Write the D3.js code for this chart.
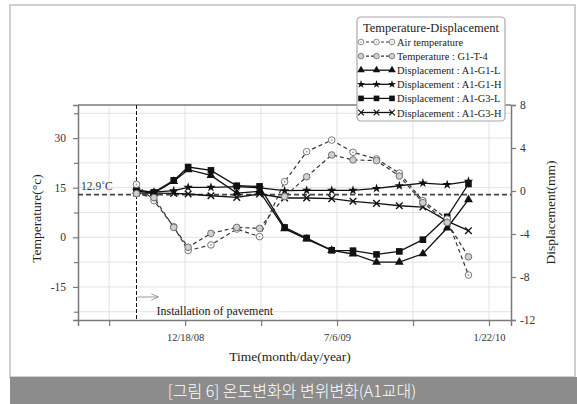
<!DOCTYPE html>
<html>
<head>
<meta charset="utf-8">
<script src="https://cdn.jsdelivr.net/npm/d3@7"></script>
<style>
  html, body { margin: 0; padding: 0; background: #fff; }
  svg { display: block; }
  .serif { font-family: "Liberation Serif", "DejaVu Serif", serif; }
</style>
</head>
<body>
<svg id="chart" width="577" height="404"></svg>
<script>
// Survey dates (month/day/year)
const dates = ["2008-10-15", "2008-11-07", "2008-12-03", "2008-12-22", "2009-01-21", "2009-02-24",
  "2009-03-26", "2009-04-28", "2009-05-27", "2009-06-29", "2009-07-27", "2009-08-27",
  "2009-09-26", "2009-10-27", "2009-11-28", "2009-12-26"];

// Temperatures (°C), left axis
const airTemp = [16.0, 11.1, 3.2, -4.0, -2.3, 2.5, 0.2, 16.8, 25.9, 29.4, 25.7, 23.7, 19.4, 11.1, 5.5, -11.4];
const tempG1T4 = [13.2, 12.0, 3.0, -3.0, 1.2, 3.0, 2.7, 12.3, 18.3, 24.9, 23.4, 23.2, 18.5, 10.5, 4.5, -5.9];

// Displacements (mm), right axis
const dispA1G1L = [-0.02, -0.2, 0.9, 1.98, 1.45, -0.19, -0.03, -3.5, -4.47, -5.52, -5.86, -6.62, -6.62, -5.84, -3.44, -0.81];
const dispA1G1H = [0.06, -0.1, 0.03, 0.34, 0.34, 0.4, 0.3, 0.03, 0.06, 0.06, 0.06, 0.24, 0.49, 0.74, 0.59, 0.9];
const dispA1G3L = [0.06, -0.13, 0.99, 2.23, 1.92, 0.49, 0.43, -3.39, -4.37, -5.52, -5.55, -5.9, -5.62, -4.53, -2.4, 0.65];
const dispA1G3H = [-0.19, -0.19, -0.22, -0.28, -0.44, -0.59, -0.28, -0.65, -0.65, -0.71, -0.96, -1.15, -1.37, -1.49, -2.8, -3.69];

// Axis ticks
const xMajorTicks = ["2008-12-18", "2009-07-06", "2010-01-22"];
const xMinorTicks = ["2008-09-09", "2009-03-28", "2009-10-14"];
const tempTicks = [-15, 0, 15, 30];
const tempMinorTicks = [-22.5, -7.5, 7.5, 22.5, 37.5];
const dispTicks = [-12, -8, -4, 0, 4, 8];

const refTemp = 12.9;
const installDate = "2008-10-15";

const parse = d3.timeParse("%Y-%m-%d");
const fmt = d => `${d.getMonth() + 1}/${d.getDate()}/${String(d.getFullYear()).slice(2)}`;

const svg = d3.select("#chart");
const L = 78, R = 511, T = 105, B = 320;

// Card frame and caption bar
svg.append("rect").attr("x", 10).attr("y", 5).attr("width", 565).attr("height", 372)
  .attr("fill", "#fff").attr("stroke", "#cfcfcf").attr("stroke-width", 2);
svg.append("rect").attr("x", 10).attr("y", 377).attr("width", 567).attr("height", 27).attr("fill", "#8c8c8c");
svg.append("text").attr("x", 292).attr("y", 397).attr("text-anchor", "middle")
  .attr("fill", "#fff").attr("font-family", "'Noto Sans CJK KR', sans-serif")
  .attr("font-size", 16).attr("font-weight", 300)
  .text("[그림 6] 온도변화와 변위변화(A1교대)");

const x = d3.scaleTime().domain([parse("2008-07-30"), parse("2010-02-20")]).range([L, R]);
const yT = d3.scaleLinear().domain([-25, 40]).range([B, T]);
const yD = d3.scaleLinear().domain([-12, 8]).range([B, T]);

const g = svg.append("g");

// Grid
g.append("g").selectAll("line").data([...tempTicks, ...tempMinorTicks]).join("line")
  .attr("x1", L).attr("x2", R).attr("y1", d => yT(d)).attr("y2", d => yT(d))
  .attr("stroke", "#e2e2e2").attr("stroke-width", 1);
g.append("g").selectAll("line").data([...xMajorTicks, ...xMinorTicks].map(parse)).join("line")
  .attr("x1", d => x(d)).attr("x2", d => x(d)).attr("y1", T).attr("y2", B)
  .attr("stroke", "#e2e2e2").attr("stroke-width", 1);

function styleAxis(sel) {
  sel.select(".domain").attr("stroke", "#7a7a7a").attr("stroke-width", 1.5);
  sel.selectAll(".tick line").attr("stroke", "#7a7a7a").attr("stroke-width", 1.2);
  sel.selectAll("text").attr("font-family", "'Liberation Serif', serif").attr("font-size", 11.5).attr("fill", "#333");
}

// Left axis
g.append("g").attr("transform", `translate(${L},0)`)
  .call(d3.axisLeft(yT).tickValues(tempTicks).tickSize(5).tickPadding(7).tickFormat(d => String(d)))
  .call(styleAxis);
g.append("g").attr("transform", `translate(${L},0)`)
  .call(d3.axisLeft(yT).tickValues(tempMinorTicks).tickSize(4).tickFormat(""))
  .call(styleAxis).call(s => s.select(".domain").remove());

// Right axis
g.append("g").attr("transform", `translate(${R},0)`)
  .call(d3.axisRight(yD).tickValues(dispTicks).tickSize(5).tickPadding(4).tickFormat(d => String(d)))
  .call(styleAxis);

// Bottom axis
g.append("g").attr("transform", `translate(0,${B})`)
  .call(d3.axisBottom(x).tickValues(xMajorTicks.map(parse)).tickSize(6).tickPadding(8).tickFormat(fmt))
  .call(styleAxis).call(s => s.selectAll("text").attr("font-size", 10.5));
g.append("g").attr("transform", `translate(0,${B})`)
  .call(d3.axisBottom(x).tickValues(xMinorTicks.map(parse)).tickSize(6).tickFormat(""))
  .call(styleAxis).call(s => s.select(".domain").remove());

// Top frame line
g.append("line").attr("x1", L).attr("x2", R).attr("y1", T).attr("y2", T)
  .attr("stroke", "#7a7a7a").attr("stroke-width", 1.5);

// Axis titles
svg.append("text").attr("class", "serif").attr("transform", `translate(41,${(T + B) / 2 + 6}) rotate(-90)`)
  .attr("text-anchor", "middle").attr("font-size", 13.5).attr("fill", "#222")
  .text("Temperature(°c)");
svg.append("text").attr("class", "serif").attr("transform", `translate(555,${(T + B) / 2}) rotate(-90)`)
  .attr("text-anchor", "middle").attr("font-size", 13.5).attr("fill", "#222")
  .text("Displacement(mm)");
svg.append("text").attr("class", "serif").attr("x", 290).attr("y", 361)
  .attr("text-anchor", "middle").attr("font-size", 13.5).attr("fill", "#222")
  .text("Time(month/day/year)");

// Reference temperature line
g.append("line").attr("x1", L).attr("x2", R).attr("y1", yT(refTemp)).attr("y2", yT(refTemp))
  .attr("stroke", "#444").attr("stroke-width", 1.8).attr("stroke-dasharray", "5,3");
svg.append("text").attr("class", "serif").attr("x", 81).attr("y", yT(refTemp) - 5)
  .attr("font-size", 11.5).attr("fill", "#333").text("12.9˚C");

// Installation marker
const xi = x(parse(installDate));
g.append("line").attr("x1", xi).attr("x2", xi).attr("y1", T).attr("y2", B)
  .attr("stroke", "#111").attr("stroke-width", 1).attr("stroke-dasharray", "4,2");
svg.append("defs").append("marker").attr("id", "arr").attr("viewBox", "0 0 10 10")
  .attr("refX", 9).attr("refY", 5).attr("markerWidth", 8).attr("markerHeight", 8).attr("orient", "auto")
  .append("path").attr("d", "M0,1 L9,5 L0,9").attr("fill", "none").attr("stroke", "#999").attr("stroke-width", 1.2);
g.append("line").attr("x1", xi + 1).attr("x2", xi + 22).attr("y1", 297).attr("y2", 297)
  .attr("stroke", "#999").attr("stroke-width", 1).attr("marker-end", "url(#arr)");
svg.append("text").attr("class", "serif").attr("x", xi + 20).attr("y", 315)
  .attr("font-size", 12).attr("fill", "#222").text("Installation of pavement");

// Series definitions
const symStar = d3.symbol().type(d3.symbolStar).size(28);
const symTri = d3.symbol().type(d3.symbolTriangle).size(34);
const symSq = d3.symbol().type(d3.symbolSquare).size(44);
const symX = d3.symbol().type(d3.symbolX).size(30);

const series = [
  { name: "Air temperature", values: airTemp, y: yT, dashed: true, marker: "air" },
  { name: "Temperature : G1-T-4", values: tempG1T4, y: yT, dashed: true, marker: "gauge" },
  { name: "Displacement : A1-G1-L", values: dispA1G1L, y: yD, marker: "tri" },
  { name: "Displacement : A1-G1-H", values: dispA1G1H, y: yD, marker: "star" },
  { name: "Displacement : A1-G3-L", values: dispA1G3L, y: yD, marker: "sq" },
  { name: "Displacement : A1-G3-H", values: dispA1G3H, y: yD, marker: "x" }
];

function drawMarker(sel, type) {
  if (type === "air") {
    sel.append("circle").attr("r", 3.3).attr("fill", "#fff").attr("stroke", "#666").attr("stroke-width", 0.9);
    sel.append("circle").attr("r", 0.9).attr("fill", "#999");
  } else if (type === "gauge") {
    sel.append("circle").attr("r", 3.3).attr("fill", "#cfcfcf").attr("stroke", "#666").attr("stroke-width", 0.9);
  } else if (type === "tri") {
    sel.append("path").attr("d", symTri()).attr("fill", "#111");
  } else if (type === "star") {
    sel.append("path").attr("d", symStar()).attr("fill", "#111");
  } else if (type === "sq") {
    sel.append("path").attr("d", symSq()).attr("fill", "#111");
  } else if (type === "x") {
    sel.append("path").attr("d", symX()).attr("fill", "none").attr("stroke", "#111").attr("stroke-width", 1.4);
  }
}

const dts = dates.map(parse);
// Solid series first, temperatures over them
const order = [2, 3, 4, 5, 0, 1];
order.forEach(i => {
  const s = series[i];
  const line = d3.line().x((d, j) => x(dts[j])).y(d => s.y(d));
  g.append("path").datum(s.values).attr("d", line).attr("fill", "none")
    .attr("stroke", s.dashed ? "#333" : "#111").attr("stroke-width", s.dashed ? 1.2 : 1.3)
    .attr("stroke-dasharray", s.dashed ? "4,3" : null);
  g.append("g").selectAll("g").data(s.values).join("g")
    .attr("transform", (d, j) => `translate(${x(dts[j])},${s.y(d)})`)
    .each(function () { drawMarker(d3.select(this), s.marker); });
});

// Legend
const lg = svg.append("g").attr("transform", "translate(357,17)");
lg.append("rect").attr("width", 148).attr("height", 104).attr("rx", 4)
  .attr("fill", "#fff").attr("stroke", "#aaa").attr("stroke-width", 1.2);
lg.append("text").attr("class", "serif").attr("x", 74).attr("y", 15).attr("text-anchor", "middle")
  .attr("font-size", 12.5).attr("fill", "#222").text("Temperature-Displacement");
series.forEach((s, i) => {
  const row = lg.append("g").attr("transform", `translate(0,${25 + i * 14.1})`);
  row.append("line").attr("x1", 4).attr("x2", 35).attr("y1", 0).attr("y2", 0)
    .attr("stroke", s.dashed ? "#333" : "#111").attr("stroke-width", s.dashed ? 1.1 : 1.3)
    .attr("stroke-dasharray", s.dashed ? "3,2" : null);
  [4, 19.5, 35].forEach(px => {
    const m = row.append("g").attr("transform", `translate(${px},0) scale(0.85)`);
    drawMarker(m, s.marker);
  });
  row.append("text").attr("class", "serif").attr("x", 40).attr("y", 4)
    .attr("font-size", 10.4).attr("fill", "#222").text(s.name);
});
</script>
</body>
</html>
